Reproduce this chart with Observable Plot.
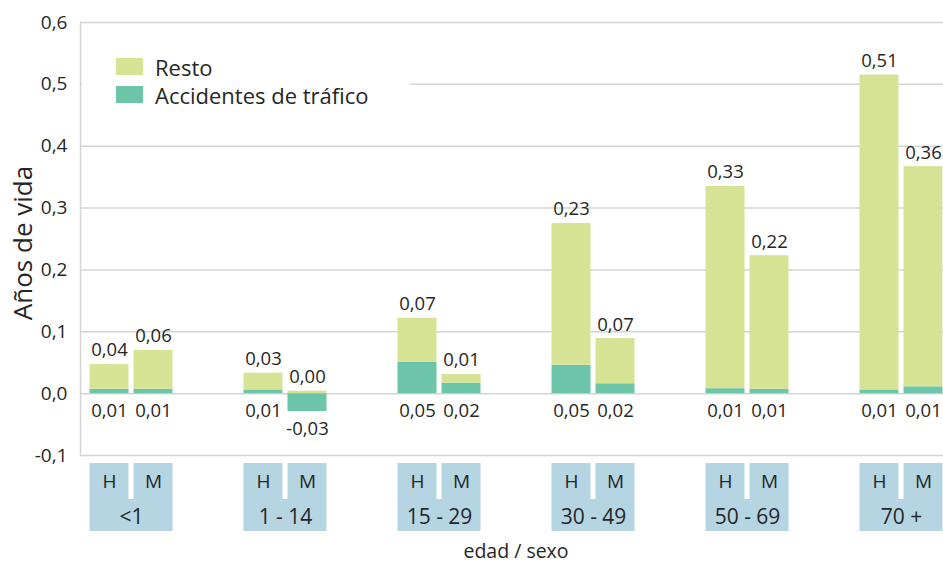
<!DOCTYPE html>
<html><head><meta charset="utf-8">
<script src="https://cdn.jsdelivr.net/npm/d3@7"></script>
<script src="https://cdn.jsdelivr.net/npm/@observablehq/plot@0.6"></script>
<style>
body{margin:0;background:#fff;font-family:"Open Sans",sans-serif;}
#wrap{position:relative;width:943px;height:564px;}
#legend{position:absolute;left:82px;top:40px;width:328px;height:80px;background:#fff;}
.sw{position:absolute;width:27px;height:17px;}
.lt{position:absolute;font-size:22px;color:#262626;line-height:24px;}
</style></head><body>
<div id="wrap"></div>
<script>
const groups = ["<1", "1 - 14", "15 - 29", "30 - 49", "50 - 69", "70 +"];
const sexes = ["H", "M"];
const series = ["Resto", "Accidentes de tráfico"];
const accH = [0.007, 0.006, 0.051, 0.046, 0.008, 0.006];
const accM = [0.007, -0.029, 0.017, 0.016, 0.007, 0.011];
const restoH = [0.040, 0.027, 0.071, 0.229, 0.327, 0.509];
const restoM = [0.063, 0.004, 0.014, 0.073, 0.216, 0.356];
const yTicks = [-0.1, 0, 0.1, 0.2, 0.3, 0.4, 0.5, 0.6];
const colors = ["#d6e394", "#6cc5a9"];

const fmt2 = v => v.toFixed(2).replace(".", ",");
const fmt1 = v => v.toFixed(1).replace(".", ",");

const wide = [];
groups.forEach((g, i) => {
  wide.push({group: g, sex: "H", acc: accH[i], resto: restoH[i]});
  wide.push({group: g, sex: "M", acc: accM[i], resto: restoM[i]});
});
const long = [];
wide.forEach(d => {
  long.push({group: d.group, sex: d.sex, series: series[1], value: d.acc});
  long.push({group: d.group, sex: d.sex, series: series[0], value: d.resto});
});
const gdata = groups.map(g => ({group: g}));
const txt = "#262626";
const font = "Open Sans";
// band geometry: each group band 154px, bar 39px, inner gap 5px
const outer = 35.5, bw = 39, gap = 5;
const ins = {H: {insetLeft: outer, insetRight: 154 - outer - bw}, M: {insetLeft: outer + bw + gap, insetRight: outer}};
const off = {H: -(bw + gap) / 2, M: (bw + gap) / 2};

const marks = [
  Plot.ruleY(yTicks, {y: d => d, stroke: "#d4d4d4", strokeWidth: 1.5}),
  Plot.frame({anchor: "left", stroke: "#d4d4d4", strokeWidth: 1.5}),
  Plot.text(yTicks, {y: d => d, text: d => fmt1(d), frameAnchor: "left", dx: -13, textAnchor: "end", fontSize: 19, fill: txt}),
  Plot.text(["Años de vida"], {text: d => d, frameAnchor: "left", textAnchor: "middle", lineAnchor: "middle", dx: -57, dy: 4, rotate: -90, fontSize: 26, fill: txt}),
  Plot.text(["edad / sexo"], {text: d => d, frameAnchor: "bottom", lineAnchor: "middle", dy: 96, dx: 4, fontSize: 19.5, fill: txt}),
  Plot.rect(gdata, {x: "group", fill: "#b5d5e3", insetLeft: outer, insetRight: outer, insetTop: 441, insetBottom: -76})
];
for (const s of sexes) {
  const L = long.filter(d => d.sex === s);
  const W = wide.filter(d => d.sex === s);
  marks.push(
    Plot.barY(L, Plot.stackY({x: "group", y: "value", fill: "series", ...ins[s]})),
    Plot.text(W, {x: "group", y: d => Math.max(0, d.acc) + d.resto, text: d => fmt2(d.resto), dx: off[s], dy: -14, fontSize: 18.5, fill: txt}),
    Plot.text(W, {x: "group", y: d => Math.min(0, d.acc), text: d => fmt2(d.acc), dx: off[s], dy: 17, fontSize: 18.5, fill: txt}),
    Plot.text(W, {x: "group", text: "sex", frameAnchor: "bottom", lineAnchor: "middle", dx: off[s], dy: 26, fontSize: 19, fill: txt})
  );
}
// white divider between H and M in the label box
marks.push(Plot.rect(gdata, {x: "group", fill: "#fff", insetLeft: outer + bw, insetRight: outer + bw, insetTop: 441, insetBottom: -44}));
marks.push(Plot.text(gdata, {x: "group", text: "group", frameAnchor: "bottom", lineAnchor: "middle", dy: 62, fontSize: 21, fill: txt}));

const chart = Plot.plot({
  width: 943, height: 564,
  marginLeft: 80, marginRight: 0, marginTop: 22, marginBottom: 109,
  style: {fontFamily: font, background: "#fff"},
  x: {domain: groups, range: [53.5, 977.5], padding: 0, axis: null},
  y: {domain: [-0.1, 0.6], axis: null},
  color: {domain: series, range: colors},
  marks
});
const wrap = document.getElementById("wrap");
wrap.appendChild(chart);
const leg = document.createElement("div");
leg.id = "legend";
wrap.appendChild(leg);
series.forEach((s, i) => {
  const sw = document.createElement("div");
  sw.className = "sw";
  sw.style.left = "116px"; sw.style.top = (58 + i * 28) + "px"; sw.style.background = colors[i];
  wrap.appendChild(sw);
  const t = document.createElement("div");
  t.className = "lt";
  t.style.left = "155px"; t.style.top = (55 + i * 28) + "px";
  t.textContent = s;
  wrap.appendChild(t);
});
</script></body></html>
